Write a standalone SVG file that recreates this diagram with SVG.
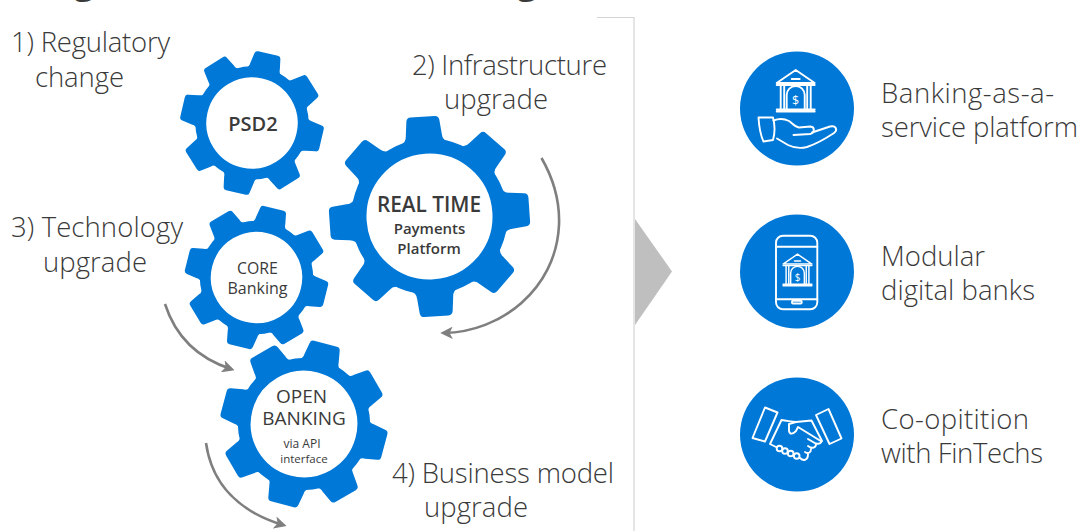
<svg xmlns="http://www.w3.org/2000/svg" width="1080" height="531" viewBox="0 0 1080 531">
<style>
text{font-family:"Open Sans","Noto Sans","Liberation Sans",sans-serif;fill:#3a3a3a}
.lbl{font-size:27.5px;font-weight:300}
.g{text-anchor:middle;font-weight:600}
.gr{text-anchor:middle;font-weight:500}
.conn{fill:none;stroke:#7f7f7f;stroke-width:2.6;marker-end:url(#ah)}
.ic{fill:none;stroke:#fff;stroke-width:1.9;stroke-linejoin:round;stroke-linecap:round}
.dollar{fill:#fff;text-anchor:middle;font-weight:500}
.disc{fill:#0078d7}
.tooth{fill:#0078d7}
</style>
<defs>
<marker id="ah" viewBox="0 0 10 10" refX="7" refY="5" markerWidth="4.8" markerHeight="4.8" orient="auto-start-reverse"><path d="M0,0 L10,5 L0,10 L2.5,5 Z" fill="#7f7f7f"/></marker>
<path id="tooth" class="tooth" d="M-25,-73 Q-18,-75 -18,-82 L-16.5,-96 Q-16,-100 -12,-100 L12,-100 Q16,-100 16.5,-96 L18,-82 Q18,-75 25,-73 Z"/>
<path id="tooth2" class="tooth" d="M-28,-72 Q-21,-74 -21,-81 L-18.5,-95 Q-18,-99 -14,-99 L14,-99 Q18,-99 18.5,-95 L21,-81 Q21,-74 28,-72 Z"/>
<g id="gear">
<circle r="70.5" fill="#fff" stroke="#0078d7" stroke-width="15"/>
<use href="#tooth"/><use href="#tooth" transform="rotate(45)"/><use href="#tooth" transform="rotate(90)"/><use href="#tooth" transform="rotate(135)"/><use href="#tooth" transform="rotate(180)"/><use href="#tooth" transform="rotate(225)"/><use href="#tooth" transform="rotate(270)"/><use href="#tooth" transform="rotate(315)"/>
</g>
<g id="gear2">
<circle r="71" fill="#fff" stroke="#0078d7" stroke-width="15"/>
<use href="#tooth2"/><use href="#tooth2" transform="rotate(45)"/><use href="#tooth2" transform="rotate(90)"/><use href="#tooth2" transform="rotate(135)"/><use href="#tooth2" transform="rotate(180)"/><use href="#tooth2" transform="rotate(225)"/><use href="#tooth2" transform="rotate(270)"/><use href="#tooth2" transform="rotate(315)"/>
</g>
<g id="bank">
<path d="M-19,-17 L0,-30 L19,-17 Z M-4,-21 H4"/>
<path d="M-19,-15 H19 M-15,-15 V9 M15,-15 V9 M-11.5,-15 V9 M11.5,-15 V9"/>
<path d="M-9,9 V-5 A9,9 0 0 1 9,-5 V9"/>
<path d="M-19,9.5 H19 M-19,11.5 H19"/>
</g>
</defs>

<g id="title-fragments">
<text x="84" y="-8" font-size="40" text-anchor="middle">g</text>
<text x="527" y="-8" font-size="40" text-anchor="middle">g</text>
</g>

<g id="panel">
<path d="M597,17.5 H634 V531" fill="none" stroke="#d4d4d4" stroke-width="1.2"/>
<path d="M635,219 L672,271.5 L635,325 Z" fill="#bfbfbf"/>
</g>

<g id="connectors">
<path class="conn" d="M541.5,158 C553,178 560,200 559,225 C556,290 500,332 444,333"/>
<path class="conn" d="M165,304 C175,335 197,358 231,369"/>
<path class="conn" d="M206,443 C212,485 240,512 283,525"/>
</g>

<g id="gear-psd2">
<use href="#gear2" transform="translate(252,123) rotate(13) scale(.72)"/>
<text class="g" x="253" y="131" font-size="20">PSD2</text>
</g>
<g id="gear-realtime">
<use href="#gear" transform="translate(429.5,216.5) rotate(-4)"/>
<text class="g" x="429" y="212" font-size="20.8">REAL TIME</text>
<text class="g" x="429.5" y="234" font-size="15">Payments</text>
<text class="g" x="429" y="254" font-size="15">Platform</text>
</g>
<g id="gear-core">
<use href="#gear2" transform="translate(256.5,277.5) rotate(14) scale(.72)"/>
<text class="gr" x="257.5" y="274" font-size="15.8">CORE</text>
<text class="gr" x="257.5" y="294" font-size="16">Banking</text>
</g>
<g id="gear-open">
<use href="#gear2" transform="translate(304,424) rotate(15) scale(.84)"/>
<text class="gr" x="301.5" y="403" font-size="19">OPEN</text>
<text class="gr" x="304" y="425" font-size="19">BANKING</text>
<text class="gr" x="302" y="448" font-size="12">via API</text>
<text class="gr" x="304" y="463" font-size="11.5">interface</text>
</g>

<g id="step-labels">
<text class="lbl" x="11" y="52" textLength="159">1) Regulatory</text>
<text class="lbl" x="35" y="87" textLength="89">change</text>
<text class="lbl" x="412" y="75" textLength="195">2) Infrastructure</text>
<text class="lbl" x="444" y="109" textLength="104">upgrade</text>
<text class="lbl" x="11" y="237" textLength="172">3) Technology</text>
<text class="lbl" x="43" y="272" textLength="104">upgrade</text>
<text class="lbl" x="392" y="483" textLength="222">4) Business model</text>
<text class="lbl" x="424" y="517" textLength="104">upgrade</text>
</g>

<g id="baas">
<circle class="disc" cx="797" cy="108.5" r="57"/>
<g class="ic">
<use href="#bank" transform="translate(795.7,100)"/>
<path d="M758.5,117.5 H773 C775,125 775,133 773,140 L763.5,141.5 C760,134 759,126 758.5,117.5 Z"/>
<path d="M773.5,120.5 C780,118 785,119 789,121 C793,124 795,127 799,127.5 L810.5,126.5 C815,127 815,133 810,134 L793.5,135"/>
<path d="M812,132.5 L830,126.5 C836,125 838,130 834,133 C825,139 816,144 807,147 C801,148.5 793,147.5 788,145 L777,138.5"/>
</g>
<text class="dollar" x="795.7" y="105" font-size="12.5">$</text>
<text class="lbl" x="881" y="103" textLength="173">Banking-as-a-</text>
<text class="lbl" x="881" y="137" textLength="197">service platform</text>
</g>

<g id="modular">
<circle class="disc" cx="797" cy="271.5" r="57"/>
<g class="ic">
<rect x="776" y="235.7" width="41.3" height="73.6" rx="7"/>
<path d="M776,246.7 H817.3 M776,299.3 H817.3"/>
<rect x="792" y="300.7" width="9.7" height="2.8" rx="1"/>
<use href="#bank" transform="translate(797.5,277) scale(.76)"/>
</g>
<text class="dollar" x="797.5" y="281" font-size="10">$</text>
<text class="lbl" x="881" y="266" textLength="104">Modular</text>
<text class="lbl" x="881" y="300" textLength="154">digital banks</text>
</g>

<g id="coopetition">
<circle class="disc" cx="797" cy="434.5" r="57"/>
<g class="ic">
<path d="M765,407.5 L777.5,412.5 L765,441.5 L752.5,438 Z"/>
<path d="M816,415 L828.5,409 L841.5,438.5 L829.5,444 Z"/>
<path d="M781.5,420 L770,444 L776,447 M781.5,420 C786,421 790,421 796,422 L811.5,420.5 L822,441"/>
<path d="M796,422 L789,424 L789,431 C790,435 793,434 796,431 L798,427 L811,435 L821.5,441.5"/>
<path d="M821.5,441.5 C820,445 816,444 813,442 L808,439 M816,444 C816,448 812,449 808,446 M811,449 C811,453 808,454 805,452 M808,454 C808,461 803,461 800,458"/>
<circle cx="779.5" cy="448.5" r="2.8"/><circle cx="785" cy="451" r="2.8"/><circle cx="790.7" cy="453.5" r="2.8"/><circle cx="796.7" cy="456" r="2.8"/>
</g>
<text class="lbl" x="881" y="429" textLength="148">Co-opitition</text>
<text class="lbl" x="881" y="463" textLength="162">with FinTechs</text>
</g>
</svg>
